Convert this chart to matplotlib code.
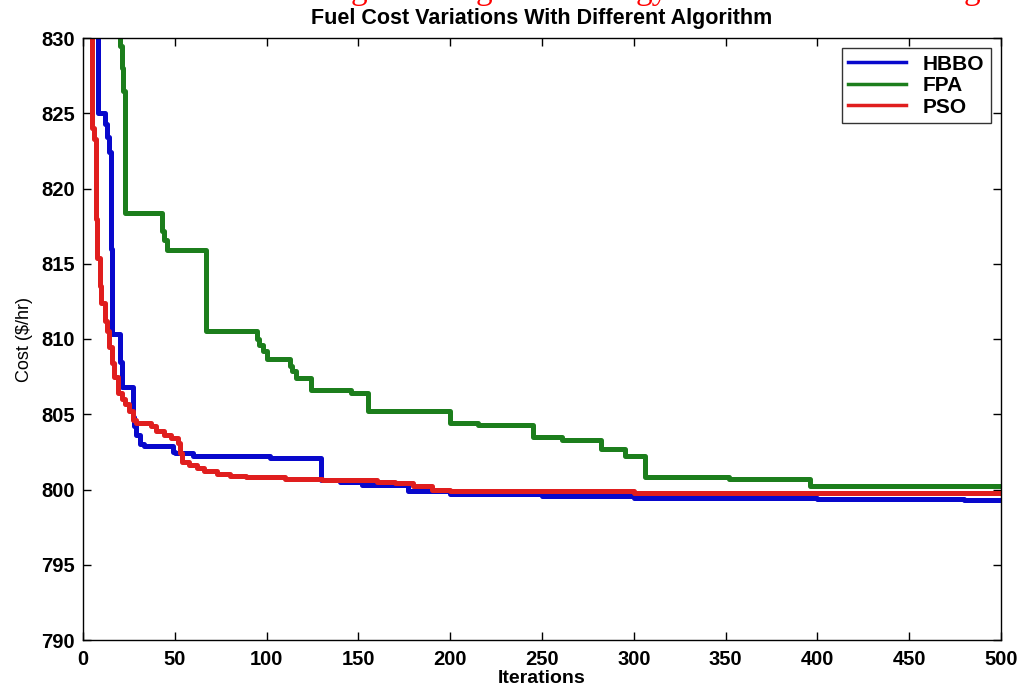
import matplotlib
matplotlib.use('Agg')
import matplotlib.pyplot as plt

# best cost per iteration; each value holds until the next
# listed iteration (the curves are step functions)
hbbo_it = [7.5, 8, 12, 13, 14, 15, 16, 20, 21, 27, 28, 29, 31, 33, 49, 50, 60,
           102, 129.5, 140, 152, 177, 200, 250, 300, 400, 480, 500]
hbbo_cost = [831, 825.0, 824.3, 823.4, 822.4, 816.0, 810.3, 808.5, 806.8, 804.8,
             804.2, 803.6, 803.0, 802.9, 802.5, 802.4, 802.2, 802.1, 800.6,
             800.5, 800.3, 799.9, 799.7, 799.6, 799.45, 799.35, 799.3, 799.3]

fpa_it = [19.5, 20, 21, 22, 23, 43, 44, 45.5, 67, 95, 96, 98, 100, 112.5, 114,
          116, 124, 146, 155, 200, 215, 245, 261, 282, 295, 306, 352, 396, 500]
fpa_cost = [831, 829.5, 828.0, 826.5, 818.4, 817.2, 816.6, 815.9, 810.5, 810.0,
            809.6, 809.2, 808.7, 808.2, 807.9, 807.4, 806.6, 806.4, 805.2, 804.4,
            804.3, 803.5, 803.3, 802.7, 802.2, 800.8, 800.7, 800.2, 800.2]

pso_it = [4.8, 5, 6, 7, 7.6, 9, 10, 12, 13, 14, 16, 17, 19, 21, 23, 25, 27, 29,
          37, 40, 44, 48, 52, 53, 54, 58, 62, 66, 73, 80, 89, 110, 130, 160, 170,
          180, 190, 200, 300, 400, 500]
pso_cost = [831, 824.0, 823.3, 818.0, 815.4, 813.5, 812.4, 811.2, 810.5, 809.5,
            808.4, 807.5, 806.4, 806.0, 805.7, 805.2, 804.6, 804.4, 804.2, 803.9,
            803.6, 803.4, 803.1, 802.4, 801.8, 801.6, 801.4, 801.2, 801.0, 800.9,
            800.8, 800.7, 800.6, 800.5, 800.4, 800.2, 800.0, 799.9, 799.8, 799.75,
            799.75]

x_ticks = list(range(0, 501, 50))
y_ticks = list(range(790, 831, 5))

FONT = 'Liberation Sans'

fig = plt.figure(figsize=(10.22, 6.89), dpi=100)
ax = fig.add_axes([83 / 1022, 1 - 640 / 689, 918 / 1022, 602 / 689])

ax.plot(hbbo_it, hbbo_cost, color='#0808cc', lw=3.6, drawstyle='steps-post',
        label='HBBO')
ax.plot(fpa_it, fpa_cost, color='#1c7e1c', lw=3.6, drawstyle='steps-post',
        label='FPA')
ax.plot(pso_it, pso_cost, color='#e01e1e', lw=3.6, drawstyle='steps-post',
        label='PSO')

ax.set_xlim(0, 500)
ax.set_ylim(790, 830)
ax.set_xticks(x_ticks)
ax.set_yticks(y_ticks)
ax.tick_params(direction='in', length=6, width=1, top=True, right=True,
               labelsize=14.5)
ax.tick_params(axis='x', pad=7)
ax.tick_params(axis='y', pad=6)
for lab in ax.get_xticklabels() + ax.get_yticklabels():
    lab.set_fontweight('bold')
    lab.set_family(FONT)
for sp in ax.spines.values():
    sp.set_linewidth(1)

ax.set_xlabel('Iterations', fontsize=14, fontweight='bold', family=FONT,
              labelpad=1)
ax.set_ylabel('Cost ($/hr)', fontsize=13, family=FONT, labelpad=6)
ax.set_title('Fuel Cost Variations With Different Algorithm', fontsize=15.5,
             fontweight='bold', family=FONT, pad=10)

leg = ax.legend(loc='upper right', frameon=True, fancybox=False,
                edgecolor='black', handlelength=2.8, borderaxespad=0.5,
                labelspacing=0.12, borderpad=0.3,
                prop={'weight': 'bold', 'family': FONT, 'size': 15})
leg.get_frame().set_linewidth(1)
for h in leg.get_lines():
    h.set_linewidth(2.5)

# caption text of the page above, cropped so only its descenders show
for xp, s in [(359, 'g'), (484, 'g'), (652, 'gy'), (972, 'g')]:
    fig.text(xp / 1022, 1 + 1 / 689, s, color='red', fontsize=24,
             family='Liberation Serif', ha='center', va='baseline')

fig.savefig('out.png', dpi=100, facecolor='white')
